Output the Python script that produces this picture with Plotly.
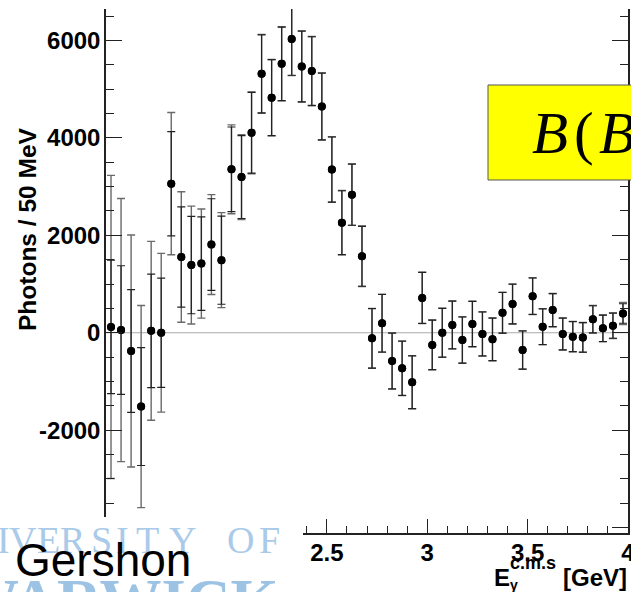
import plotly.graph_objects as go

# ---- data ----
energy = [1.425, 1.475, 1.525, 1.575, 1.625, 1.675, 1.725, 1.775, 1.825, 1.875,
          1.925, 1.975, 2.025, 2.075, 2.125, 2.175, 2.225, 2.275, 2.325, 2.375,
          2.425, 2.475, 2.525, 2.575, 2.625, 2.675, 2.725, 2.775, 2.825, 2.875,
          2.925, 2.975, 3.025, 3.075, 3.125, 3.175, 3.225, 3.275, 3.325, 3.375,
          3.425, 3.475, 3.525, 3.575, 3.625, 3.675, 3.725, 3.775, 3.825, 3.875,
          3.925, 3.975]
photons = [120, 55, -375, -1515, 40, 0, 3060, 1555, 1390, 1420,
           1810, 1490, 3355, 3195, 4105, 5315, 4825, 5520, 6030, 5465,
           5370, 4645, 3350, 2260, 2835, 1570, -115, 195, -580, -730,
           -1015, 715, -250, 0, 160, -150, 180, -25, -135, 410,
           590, -355, 750, 125, 465, -25, -80, -95, 275, 90,
           145, 395]
err_total = [3110, 2700, 2380, 2075, 1835, 1630, 1460, 1340, 1210, 1120,
             1025, 975, 912, 871, 840, 810, 785, 760, 752, 730,
             710, 690, 672, 660, 632, 620, 615, 595, 577, 560,
             546, 528, 512, 505, 492, 477, 468, 455, 440, 420,
             410, 395, 378, 370, 342, 330, 313, 307, 283, 274,
             262, 225]
err_stat = [1370, 1320, 1260, 1210, 1165, 1120, 1070, 1030, 1000, 960,
            940, 905, 868, 850, 830, 800, 780, 755, 745, 725,
            705, 685, 668, 655, 628, 615, 610, 590, 572, 556,
            542, 524, 508, 500, 488, 473, 464, 451, 436, 416,
            406, 391, 374, 366, 338, 326, 309, 303, 279, 270,
            258, 200]
y_tickvals = [-4000, -2000, 0, 2000, 4000, 6000]
y_ticktext = ["-4000", "-2000", "0", "2000", "4000", "6000"]
logo_letters = ["I", "V", "E", "R", "S", "I", "T", "Y", "O", "F"]
logo_letter_px = [3, 23, 48, 73, 101, 122, 147, 182, 240, 269]
box_parts = ["<i>B</i>", "(", "<i>B</i>"]
box_parts_px = [530, 572, 597]

W, H = 631, 592
ML, MR, MT, MB = 106, 3, 9, 59
PW, PH = W - ML - MR, H - MT - MB


def px(x):
    return (x - ML) / PW


def py(y):
    return (H - MB - y) / PH


fig = go.Figure()
fig.add_trace(go.Scatter(
    x=energy, y=photons, mode="markers",
    marker=dict(size=8, color="black"),
    error_y=dict(type="data", array=err_total, color="#6a6a6a", thickness=1.4, width=4),
    showlegend=False, hoverinfo="skip"))
fig.add_trace(go.Scatter(
    x=energy, y=photons, mode="markers",
    marker=dict(size=8, color="black"),
    error_y=dict(type="data", array=err_stat, color="#222222", thickness=1.2, width=4),
    showlegend=False, hoverinfo="skip"))

tickfont = dict(family="Liberation Sans", size=24, color="black", weight="bold")

fig.update_layout(
    width=W, height=H,
    margin=dict(l=ML, r=MR, t=MT, b=MB, pad=0, autoexpand=False),
    paper_bgcolor="white", plot_bgcolor="white",
    showlegend=False,
    xaxis=dict(
        range=[1.4, 4.0], showgrid=False, zeroline=False, automargin=False,
        showline=True, linecolor="#222", linewidth=1.5,
        ticks="inside", ticklen=14, tickwidth=1.2, tickcolor="#222",
        tick0=0, dtick=0.5, ticklabeloverflow="allow",
        minor=dict(tickmode="linear", tick0=0, dtick=0.1, ticklen=7, ticks="inside",
                   tickcolor="#222", tickwidth=1.2, showgrid=False),
        tickfont=tickfont, ticklabelstandoff=-3),
    yaxis=dict(
        range=[-4110, 6645], showgrid=False, zeroline=False, automargin=False,
        showline=True, linecolor="#222", linewidth=1.5, mirror="ticks",
        ticks="inside", ticklen=16, tickwidth=1.2, tickcolor="#222",
        tickmode="array", tickvals=y_tickvals, ticktext=y_ticktext,
        minor=dict(tickmode="linear", tick0=0, dtick=500, ticklen=8, ticks="inside",
                   tickcolor="#222", tickwidth=1.2, showgrid=False),
        tickfont=tickfont, ticklabelstandoff=-1),
)

shapes = [
    # zero line
    dict(type="line", xref="x", yref="y", x0=1.4, x1=4.0, y0=0, y1=0,
         line=dict(color="#aaaaaa", width=1), layer="below"),
    # yellow box
    dict(type="rect", xref="paper", yref="paper",
         x0=px(488), x1=px(720), y0=py(180), y1=py(85),
         fillcolor="#ffff00", line=dict(color="#555555", width=1), layer="above"),
    # logo background
    dict(type="rect", xref="paper", yref="paper",
         x0=px(-10), x1=px(303), y0=py(600), y1=py(517),
         fillcolor="white", line=dict(width=0), layer="above"),
]
fig.update_layout(shapes=shapes)

ann = []
# y-axis title
ann.append(dict(text="Photons / 50 MeV", xref="paper", yref="paper",
                x=px(27), y=py(229), textangle=-90, showarrow=False,
                xanchor="center", yanchor="middle",
                font=dict(family="Liberation Sans", size=24.5, color="black", weight="bold")))
# x-axis title pieces
ann.append(dict(text="E", xref="paper", yref="paper", x=px(492), y=py(577),
                showarrow=False, xanchor="left", yanchor="middle",
                font=dict(family="Liberation Sans", size=24, color="black", weight="bold")))
ann.append(dict(text="c.m.s", xref="paper", yref="paper", x=px(508), y=py(563),
                showarrow=False, xanchor="left", yanchor="middle",
                font=dict(family="Liberation Sans", size=18, color="black", weight="bold")))
ann.append(dict(text="γ", xref="paper", yref="paper", x=px(508), y=py(585),
                showarrow=False, xanchor="left", yanchor="middle",
                font=dict(family="Liberation Sans", size=14, color="black", weight="bold")))
ann.append(dict(text="[GeV]", xref="paper", yref="paper", x=px(561), y=py(577),
                showarrow=False, xanchor="left", yanchor="middle",
                font=dict(family="Liberation Sans", size=24, color="black", weight="bold")))
# B(B text in yellow box
for part, xp in zip(box_parts, box_parts_px):
    ann.append(dict(text=part, xref="paper", yref="paper", x=px(xp), y=py(133),
                    showarrow=False, xanchor="left", yanchor="middle",
                    font=dict(family="Liberation Serif", size=59, color="black")))
# logo letters
for ch, xp in zip(logo_letters, logo_letter_px):
    ann.append(dict(text=ch, xref="paper", yref="paper", x=px(xp), y=py(540),
                    showarrow=False, xanchor="center", yanchor="middle",
                    font=dict(family="Liberation Serif", size=38, color="#a9cae8")))
ann.append(dict(text="WARWICK", xref="paper", yref="paper", x=px(-45), y=py(600),
                showarrow=False, xanchor="left", yanchor="middle",
                font=dict(family="Liberation Serif", size=62, color="#9cc2e4", weight="bold")))
# Gershon
ann.append(dict(text="Gershon", xref="paper", yref="paper", x=px(13), y=py(559.5),
                showarrow=False, xanchor="left", yanchor="middle",
                font=dict(family="Liberation Sans", size=46, color="black")))
fig.update_layout(annotations=ann)

fig.write_html("out.html")
